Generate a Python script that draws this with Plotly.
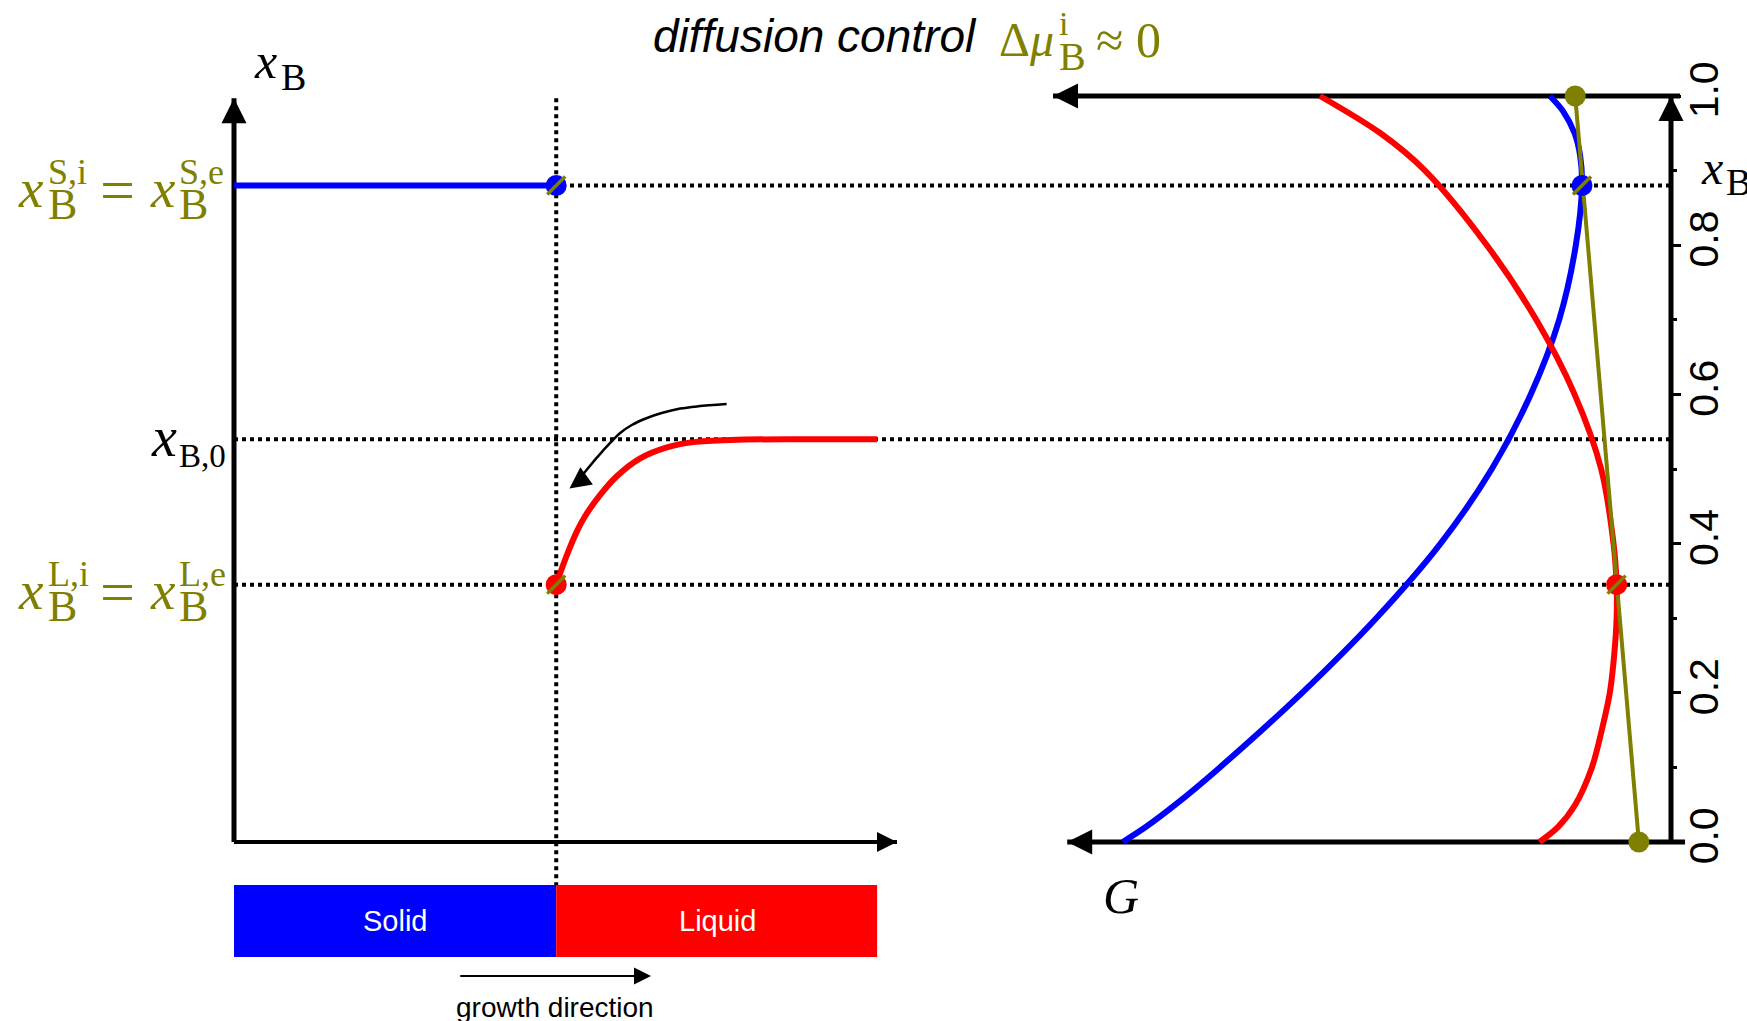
import plotly.graph_objects as go

W, H = 1747, 1021
OLIVE = "#808000"
SERIF = "Liberation Serif"
SANS = "Liberation Sans"

# ---- composition profile across the solid/liquid interface ----
xB_S_i = 0.88      # solid side of the interface (= equilibrium)
xB_L_i = 0.345     # liquid side of the interface (= equilibrium)
xB_0 = 0.54        # far-field liquid composition
z_interface = 0.486
z_liquid_end = 0.97

z_solid = [0.0, z_interface]
z_profile = [0.486, 0.495, 0.504, 0.517, 0.529, 0.552, 0.577, 0.612, 0.653, 0.693, 0.75, 0.85, 0.97]
xB_profile = [0.345, 0.368, 0.389, 0.416, 0.436, 0.465, 0.490, 0.514, 0.529, 0.536, 0.539, 0.540, 0.540]

# curved arrow indicating the liquid composition drop
arc_z = [0.743, 0.700, 0.673, 0.645, 0.622, 0.600, 0.582, 0.557, 0.532, 0.517]
arc_xB = [0.587, 0.584, 0.581, 0.575, 0.568, 0.559, 0.548, 0.525, 0.499, 0.481]

# ---- Gibbs energy curves (arbitrary units, G grows to the left) ----
xB_sol = [0.0, 0.02, 0.05, 0.1, 0.2, 0.3, 0.4, 0.5, 0.6, 0.7, 0.8, 0.88, 0.92, 0.95, 0.98, 1.0]
G_solid = [0.887, 0.850, 0.802, 0.730, 0.597, 0.477, 0.373, 0.290, 0.227, 0.181, 0.154, 0.144, 0.147, 0.156, 0.175, 0.196]
xB_liq = [0.0, 0.02, 0.05, 0.1, 0.15, 0.2, 0.25, 0.3, 0.345, 0.4, 0.5, 0.6, 0.7, 0.8, 0.9, 0.95, 1.0]
G_liquid = [0.213, 0.183, 0.155, 0.128, 0.112, 0.099, 0.092, 0.088, 0.088, 0.093, 0.113, 0.156, 0.218, 0.298, 0.398, 0.470, 0.568]
xB_tangent = [0.0, 1.0]
G_tangent = [0.052, 0.155]
G_S_i = 0.144
G_L_i = 0.088

tick_vals = [0.0, 0.2, 0.4, 0.6, 0.8, 1.0]
tick_text = ["0.0", "0.2", "0.4", "0.6", "0.8", "1.0"]
minor_vals = [0.1, 0.3, 0.5, 0.7, 0.9]

# axis scaling: left panel z in [0,1] spans px 234..897, xB in [0,1] spans px 842..96
Z_RANGE = [-234 / 663, (W - 234) / 663]
XB_RANGE = [-(H - 842) / 746, 842 / 746]
G_RANGE = [1671 / 618, -(W - 1671) / 618]
G_AXIS = 0.0

fig = go.Figure()

def line(x, y, color, width, axes="l", shape="linear"):
    xa, ya = ("x", "y") if axes == "l" else ("x2", "y2")
    fig.add_trace(go.Scatter(x=x, y=y, mode="lines", xaxis=xa, yaxis=ya,
                             line=dict(color=color, width=width, shape=shape,
                                       smoothing=0.9 if shape == "spline" else None),
                             hoverinfo="skip", cliponaxis=False))

def dot(x, y, color, axes="l", stripe=False):
    xa, ya = ("x", "y") if axes == "l" else ("x2", "y2")
    fig.add_trace(go.Scatter(x=[x], y=[y], mode="markers", xaxis=xa, yaxis=ya,
                             marker=dict(symbol="circle", size=21, color=color, line=dict(width=0)),
                             hoverinfo="skip", cliponaxis=False))
    if stripe:
        fig.add_trace(go.Scatter(x=[x], y=[y], mode="markers", xaxis=xa, yaxis=ya,
                                 marker=dict(symbol="line-ne", size=18,
                                             line=dict(color=OLIVE, width=3.5)),
                                 hoverinfo="skip", cliponaxis=False))

# left panel axes
line([0, 0], [0, 0.997], "black", 5)
line([0, 1.0], [0, 0], "black", 4)

# composition profile
line(z_solid, [xB_S_i, xB_S_i], "#0000ff", 6)
line(z_profile, xB_profile, "#ff0000", 6, shape="spline")
line(arc_z, arc_xB, "black", 2.5, shape="spline")
dot(z_interface, xB_S_i, "#0000ff", stripe=True)
dot(z_interface, xB_L_i, "#ff0000", stripe=True)

# right panel frame
line([G_AXIS, G_AXIS], [0, 1.0], "black", 5, axes="r")
line([-0.0146, 1.0], [1.0, 1.0], "black", 5, axes="r")
line([-0.0227, 0.977], [0.0, 0.0], "black", 5, axes="r")

# Gibbs energy curves and common tangent
line(G_solid, xB_sol, "#0000ff", 6, axes="r", shape="spline")
line(G_liquid, xB_liq, "#ff0000", 6, axes="r", shape="spline")
line(G_tangent, xB_tangent, OLIVE, 4, axes="r")
dot(G_tangent[0], xB_tangent[0], OLIVE, axes="r")
dot(G_tangent[1], xB_tangent[1], OLIVE, axes="r")
dot(G_S_i, xB_S_i, "#0000ff", axes="r", stripe=True)
dot(G_L_i, xB_L_i, "#ff0000", axes="r", stripe=True)

# guide lines
shapes = []
for v in (xB_S_i, xB_0, xB_L_i):
    shapes.append(dict(type="line", xref="paper", yref="y", x0=234 / W, x1=1671 / W, y0=v, y1=v,
                       line=dict(color="black", width=4, dash="dot"), layer="below"))
shapes.append(dict(type="line", xref="x", yref="y", x0=z_interface, x1=z_interface, y0=0.997, y1=-0.059,
                   line=dict(color="black", width=4, dash="dot"), layer="below"))
# solid / liquid bars
shapes.append(dict(type="rect", xref="x", yref="y", x0=0, x1=z_interface, y0=-0.1542, y1=-0.0576,
                   fillcolor="#0000ff", line=dict(width=0), layer="above"))
shapes.append(dict(type="rect", xref="x", yref="y", x0=z_interface, x1=z_liquid_end, y0=-0.1542, y1=-0.0576,
                   fillcolor="#ff0000", line=dict(width=0), layer="above"))

ann = []

def head(x, y, ax, ay, xref="x", yref="y", width=5, size=1.0, style=2):
    ann.append(dict(x=x, y=y, xref=xref, yref=yref, ax=ax, ay=ay, showarrow=True, text="",
                    arrowhead=style, arrowwidth=width, arrowsize=size, arrowcolor="black", standoff=0))

head(0, 0.997, 0, 24)
head(1.0, 0, -24, 0, width=4)
head(G_AXIS, 1.0, 0, 24, xref="x2", yref="y2")
head(1.0, 1.0, 24, 0, xref="x2", yref="y2")
head(0.977, 0.0, 24, 0, xref="x2", yref="y2")
head(0.506, 0.474, 15, -11, width=2.5, size=1.7)
ann.append(dict(x=0.629, y=-0.1796, ax=0.339, ay=-0.1796, xref="x", yref="y", axref="x", ayref="y",
                showarrow=True, text="", arrowhead=2, arrowwidth=2, arrowsize=1.7,
                arrowcolor="black", standoff=0))

def txt(s, left, cy, size, color="black", family=SERIF, anchor="left"):
    ann.append(dict(text=s, x=left / W, y=1 - cy / H, xref="paper", yref="paper", xanchor=anchor,
                    yanchor="middle", align="left", showarrow=False, borderpad=0,
                    font=dict(family=family, size=size, color=color)))

def script_stack(sup, sub, left, cy, sup_size, sub_size, gap, color):
    # superscript stacked above subscript in one text block
    s = ('<span style="font-size:%dpx">%s</span><br><span style="font-size:%dpx">%s</span>'
         % (sup_size, sup, sub_size, sub))
    txt(s, left, cy, gap / 1.3, color)

# title
txt("<i>diffusion control</i>", 652, 36, 46, family=SANS)
txt("Δ<i>μ</i>", 998, 40, 48, OLIVE)
script_stack("i", "B", 1058, 42, 34, 40, 35, OLIVE)
txt("≈ 0", 1095, 40, 50, OLIVE)

# interface composition labels
for dy, ph in ((0, "S"), (402, "L")):
    txt("<i>x</i>", 17, 188 + dy, 55, OLIVE)
    script_stack(ph + ",i", "B", 47, 190 + dy, 36, 44, 35, OLIVE)
    txt("=", 99, 190 + dy, 62, OLIVE)
    txt("<i>x</i>", 149, 188 + dy, 55, OLIVE)
    script_stack(ph + ",e", "B", 178, 190 + dy, 36, 44, 35, OLIVE)

txt("<i>x</i>", 150, 437, 56)
txt("B,0", 178, 456, 33)
txt("<i>x</i>", 253, 61, 50)
txt("B", 280, 77, 38)
txt("<i>x</i>", 1700, 167, 48)
txt("B", 1725, 182, 38)
txt("<i>G</i>", 1102, 896, 50)

txt("Solid", 395, 921, 29, "white", SANS, "center")
txt("Liquid", 717, 921, 29, "white", SANS, "center")
txt("growth direction", 555, 1007, 28, "black", SANS, "center")

fig.update_layout(
    width=W, height=H, margin=dict(l=0, r=0, t=0, b=0),
    paper_bgcolor="white", plot_bgcolor="white", showlegend=False,
    xaxis=dict(domain=[0, 1], range=Z_RANGE, visible=False, fixedrange=True),
    yaxis=dict(domain=[0, 1], range=XB_RANGE, visible=False, fixedrange=True),
    xaxis2=dict(overlaying="x", anchor="y2", range=G_RANGE, visible=False),
    yaxis2=dict(overlaying="y", anchor="free", position=1671 / W, side="right", range=XB_RANGE,
                tickmode="array", tickvals=tick_vals, ticktext=tick_text, ticks="outside",
                ticklen=9, tickwidth=3, tickcolor="black", tickangle=-90, ticklabelstandoff=-12,
                tickfont=dict(family=SANS, size=41, color="black"),
                showline=False, showgrid=False, zeroline=False,
                minor=dict(tickvals=minor_vals, ticks="outside", ticklen=5, tickwidth=3,
                           tickcolor="black", showgrid=False)),
    shapes=shapes, annotations=ann,
)

fig.write_html("out.html")
